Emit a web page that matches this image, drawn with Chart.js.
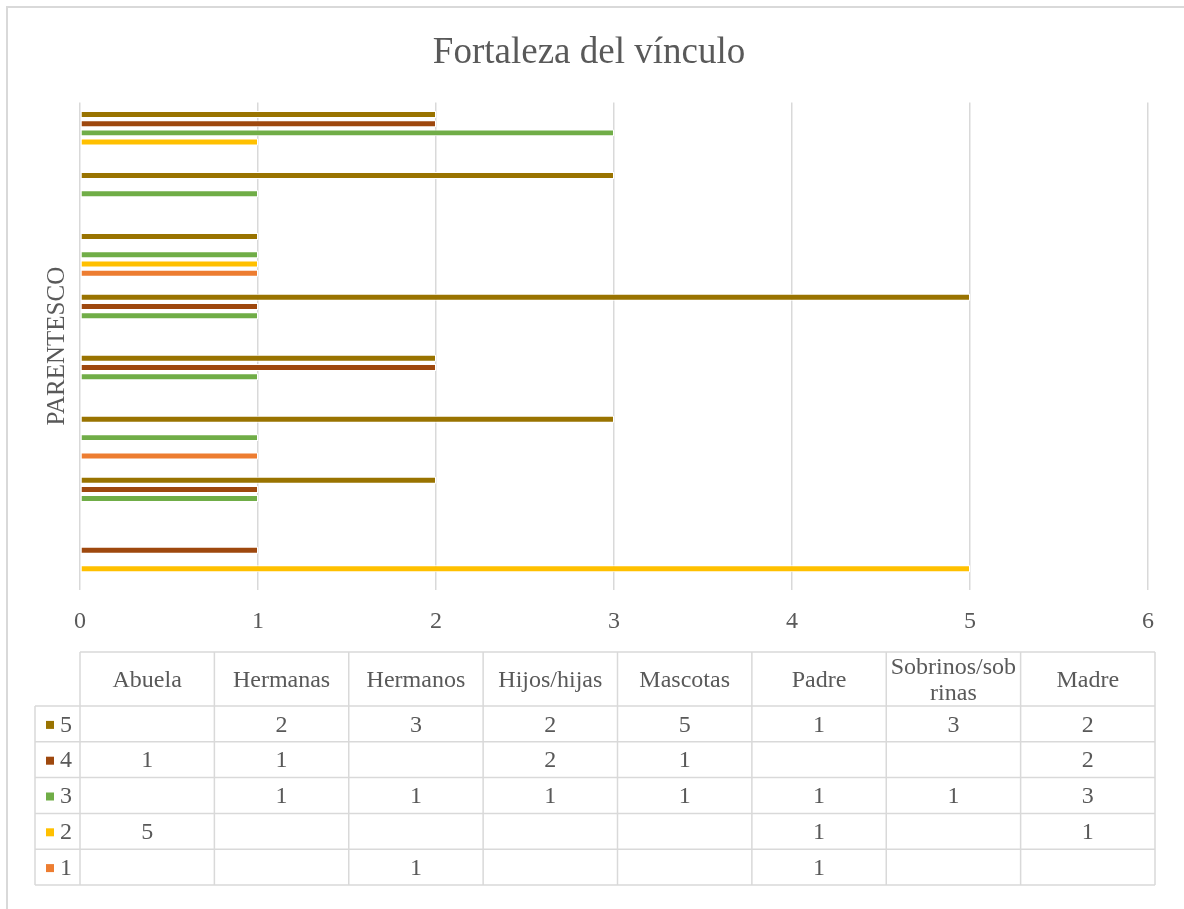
<!DOCTYPE html>
<html>
<head>
<meta charset="utf-8">
<title>Fortaleza del vínculo</title>
<script src="https://cdn.jsdelivr.net/npm/chart.js@4.4.0/dist/chart.umd.min.js"></script>
<style>
  html, body { margin: 0; padding: 0; background: #fff; }
  canvas { display: block; }
</style>
</head>
<body>
<canvas id="vinculoChart" width="1184" height="909"></canvas>
<script>
// Datos (Abuela abajo, Madre arriba)
const categories = ['Abuela', 'Hermanas', 'Hermanos', 'Hijos/hijas', 'Mascotas', 'Padre', 'Sobrinos/sobrinas', 'Madre'];
const serie5 = [null, 2, 3, 2, 5, 1, 3, 2];
const serie4 = [1, 1, null, 2, 1, null, null, 2];
const serie3 = [null, 1, 1, 1, 1, 1, 1, 3];
const serie2 = [5, null, null, null, null, 1, null, 1];
const serie1 = [null, null, 1, null, null, 1, null, null];

// orden de las filas de la tabla (5 arriba)
const seriesLabels = ['5', '4', '3', '2', '1'];
const seriesValues = [serie5, serie4, serie3, serie2, serie1];
const seriesColors = ['#997300', '#9E480E', '#70AD47', '#FFC000', '#ED7D31'];

const FONT = "'Liberation Serif', 'Times New Roman', serif";
const GRID = '#d9d9d9';
const TEXT = '#595959';

Chart.defaults.font.family = FONT;
Chart.defaults.color = TEXT;

// marco exterior del grafico
const frame = {
    id: 'frame',
    beforeDraw(chart) {
        const ctx = chart.ctx;
        ctx.save();
        ctx.strokeStyle = GRID;
        ctx.lineWidth = 2;
        ctx.strokeRect(7, 7, chart.width + 20, chart.height + 20);
        ctx.restore();
    }
};

// parte texto en lineas por caracteres, como Excel
function wrapChars(ctx, text, maxW) {
    const lines = [];
    let line = '';
    for (const ch of text) {
        if (line && ctx.measureText(line + ch).width > maxW) {
            lines.push(line);
            line = ch;
        } else {
            line += ch;
        }
    }
    lines.push(line);
    return lines;
}

// tabla de datos bajo el eje
const dataTable = {
    id: 'dataTable',
    afterDraw(chart) {
        const { ctx, chartArea } = chart;
        const left = chartArea.left;
        const right = chartArea.right + 7;
        const colW = (right - left) / categories.length;
        const top = chartArea.bottom + 62;
        const headH = 54;
        const rowH = 35.8;
        const keyLeft = 35;
        const bottom = top + headH + rowH * seriesValues.length;

        ctx.save();
        ctx.strokeStyle = GRID;
        ctx.lineWidth = 1.5;
        ctx.beginPath();
        ctx.moveTo(left, top);
        ctx.lineTo(right, top);
        for (let i = 0; i <= seriesValues.length; i++) {
            const y = top + headH + rowH * i;
            ctx.moveTo(keyLeft, y);
            ctx.lineTo(right, y);
        }
        ctx.moveTo(keyLeft, top + headH);
        ctx.lineTo(keyLeft, bottom);
        for (let j = 0; j <= categories.length; j++) {
            const x = left + colW * j;
            ctx.moveTo(x, top);
            ctx.lineTo(x, bottom);
        }
        ctx.stroke();

        ctx.font = '24px ' + FONT;
        ctx.fillStyle = TEXT;
        ctx.textAlign = 'center';
        ctx.textBaseline = 'middle';

        // cabecera
        categories.forEach((cat, j) => {
            const cx = left + colW * (j + 0.5);
            const lines = wrapChars(ctx, cat, colW - 8);
            const lh = 26;
            const y0 = top + headH / 2 + 2 - (lines.length - 1) * lh / 2;
            lines.forEach((ln, k) => ctx.fillText(ln, cx, y0 + k * lh));
        });

        // filas
        seriesValues.forEach((vals, i) => {
            const cy = top + headH + rowH * (i + 0.5) + 1.5;
            ctx.fillStyle = seriesColors[i];
            ctx.fillRect(46, cy - 4.5, 8, 8);
            ctx.fillStyle = TEXT;
            ctx.textAlign = 'left';
            ctx.fillText(seriesLabels[i], 60, cy);
            ctx.textAlign = 'center';
            vals.forEach((v, j) => {
                if (v === null) return;
                ctx.fillText(String(v), left + colW * (j + 0.5), cy);
            });
        });
        ctx.restore();
    }
};

new Chart(document.getElementById('vinculoChart'), {
    type: 'bar',
    data: {
        labels: categories,
        datasets: seriesLabels.map((s, i) => ({
            label: s,
            data: seriesValues[i],
            backgroundColor: seriesColors[i],
            borderColor: '#ffffff',
            borderWidth: 1,
            borderSkipped: false,
            categoryPercentage: 0.754,
            barPercentage: 0.76
        }))
    },
    options: {
        indexAxis: 'y',
        responsive: false,
        animation: false,
        layout: { padding: { top: 10, left: 30, right: 36, bottom: 269 } },
        plugins: {
            legend: { display: false },
            tooltip: { enabled: false },
            title: {
                display: true,
                text: 'Fortaleza del vínculo',
                color: TEXT,
                font: { size: 37, weight: 'normal' },
                padding: { top: 21, bottom: 27 }
            }
        },
        scales: {
            x: {
                min: 0,
                max: 6,
                ticks: { stepSize: 1, padding: 17, font: { size: 24 }, color: TEXT },
                grid: { color: GRID, lineWidth: 1.5, drawTicks: false },
                border: { display: false },
                afterFit(scale) { scale.height = 50; }
            },
            y: {
                reverse: true,
                ticks: { display: false },
                grid: { display: false },
                border: { display: false },
                title: {
                    display: true,
                    text: 'PARENTESCO',
                    color: TEXT,
                    font: { size: 25 },
                    padding: { top: 12, bottom: 0 }
                },
                afterFit(scale) { scale.width = 50; }
            }
        }
    },
    plugins: [frame, dataTable]
});
</script>
</body>
</html>
